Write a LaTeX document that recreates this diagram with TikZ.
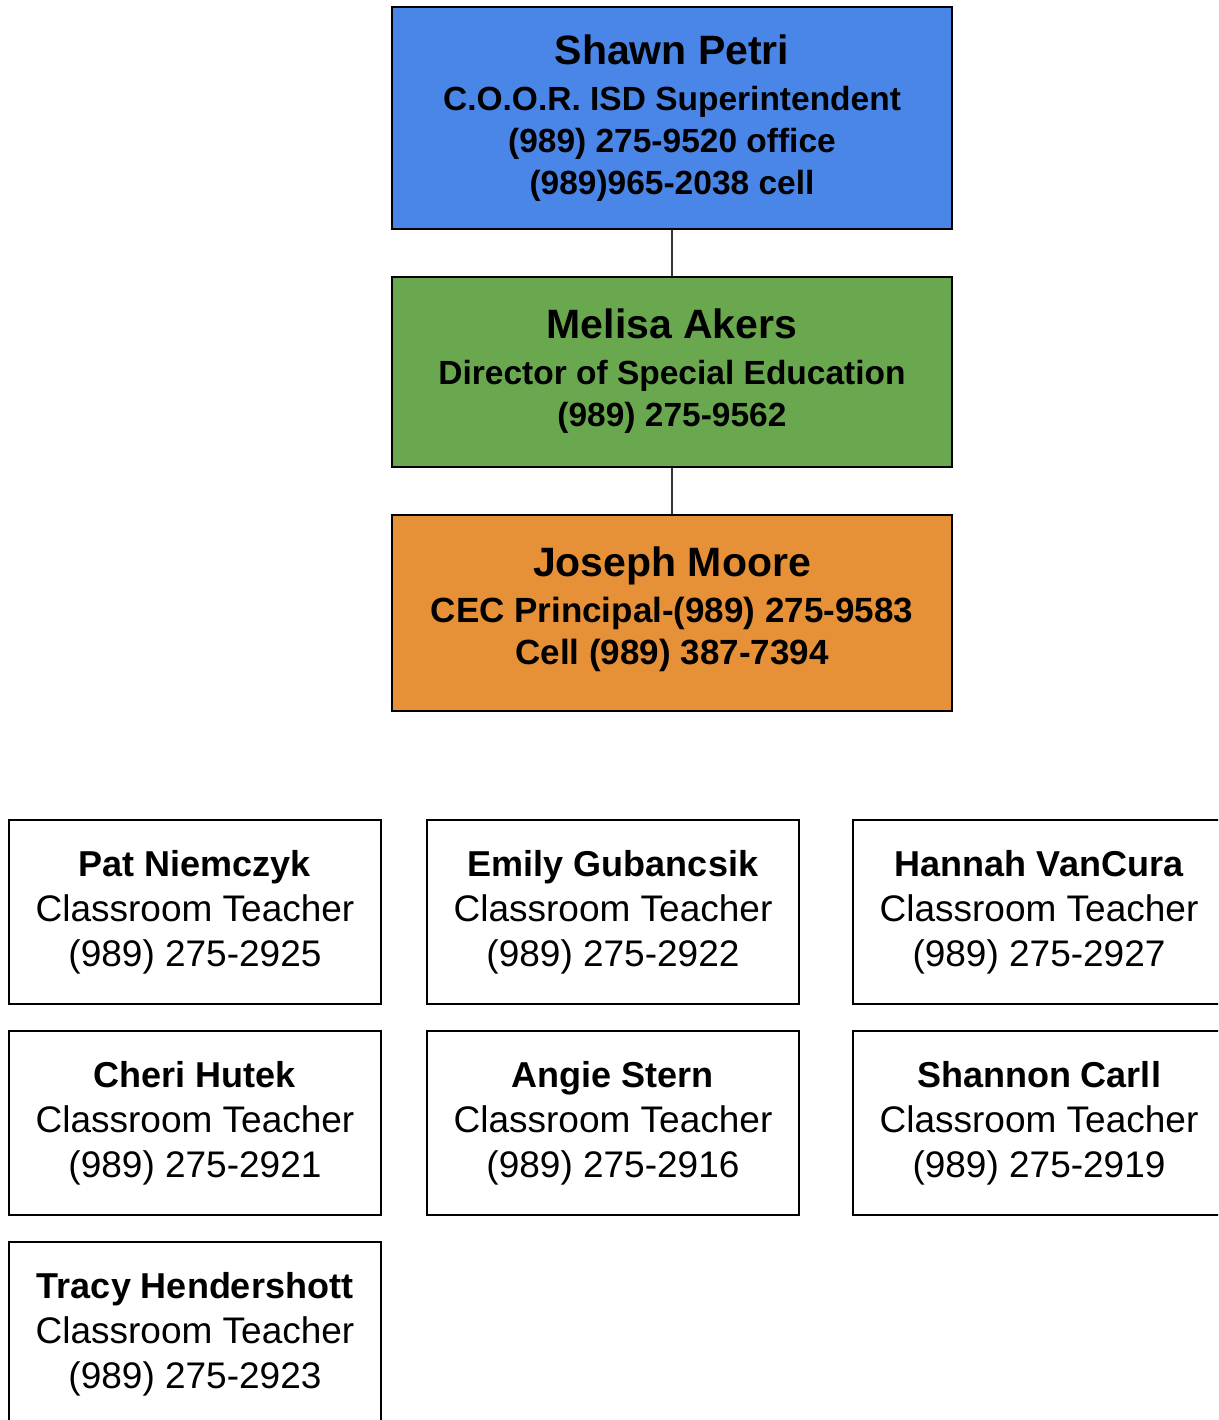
\documentclass[tikz,border=0pt]{standalone}
\usepackage{fontspec}
\setmainfont{Liberation Sans}
\usepackage{tikz}
\usetikzlibrary{positioning}
\usepackage{xcolor}
\definecolor{cBlue}{HTML}{4A86E8}
\definecolor{cGreen}{HTML}{6AA84F}
\definecolor{cOrange}{HTML}{E69138}
\definecolor{cLine}{HTML}{333333}

\newcommand{\leadname}[1]{{\fontsize{41}{48}\selectfont\bfseries #1}}
\newcommand{\teachname}[1]{{\fontsize{36}{45}\selectfont\bfseries #1}}
% extra depth on the last line lifts the text block a little
\newcommand{\lift}[1]{\rule[-#1]{0pt}{0pt}}

\begin{document}
\begin{tikzpicture}[x=1pt, y=-1pt,
  leadbox/.style={draw=black, fill=#1, line width=2.5pt,
    minimum width=560pt, inner sep=0pt, align=center,
    font=\fontsize{33.5}{42}\selectfont\bfseries},
  teacherbox/.style={draw=black, fill=white, line width=2.5pt,
    minimum width=372pt, minimum height=184pt, inner sep=0pt,
    align=center, font=\fontsize{37}{45}\selectfont},
  link/.style={draw=cLine, line width=1.5pt}
]
  \useasboundingbox (0,0) rectangle (1218,1420);
  \clip (0,0) rectangle (1218,1420);

  % leadership chain
  \node[leadbox=cBlue, minimum height=222pt] (petri) at (672,118) {%
    \leadname{Shawn Petri}\\[4pt]
    C.O.O.R. ISD Superintendent\\
    (989) 275-9520 office\\
    (989)965-2038 cell%
  };

  \node[leadbox=cGreen, minimum height=190pt] (akers) at (672,372) {%
    \leadname{Melisa Akers}\\[4pt]
    Director of Special Education\\
    (989) 275-9562\lift{9pt}%
  };

  \node[leadbox=cOrange, minimum height=196pt,
    font=\fontsize{35}{42}\selectfont\bfseries] (moore) at (672,613) {%
    \leadname{Joseph Moore}\\[4pt]
    CEC Principal-(989) 275-9583\\
    Cell (989) 387-7394\lift{15pt}%
  };

  \draw[link] (petri.south) -- (akers.north);
  \draw[link] (akers.south) -- (moore.north);

  % classroom teachers
  \node[teacherbox] (niemczyk) at (195,912) {%
    \teachname{Pat Niemczyk}\\ Classroom Teacher\\ (989) 275-2925\lift{4pt}};
  \node[teacherbox] (gubancsik) at (613,912) {%
    \teachname{Emily Gubancsik}\\ Classroom Teacher\\ (989) 275-2922\lift{4pt}};
  \node[teacherbox] (vancura) at (1039,912) {%
    \teachname{Hannah VanCura}\\ Classroom Teacher\\ (989) 275-2927\lift{4pt}};

  \node[teacherbox] (hutek) at (195,1123) {%
    \teachname{Cheri Hutek}\\ Classroom Teacher\\ (989) 275-2921\lift{4pt}};
  \node[teacherbox] (stern) at (613,1123) {%
    \teachname{Angie Stern}\\ Classroom Teacher\\ (989) 275-2916\lift{4pt}};
  \node[teacherbox] (carll) at (1039,1123) {%
    \teachname{Shannon Carll}\\ Classroom Teacher\\ (989) 275-2919\lift{4pt}};

  \node[teacherbox] (hendershott) at (195,1334) {%
    \teachname{Tracy Hendershott}\\ Classroom Teacher\\ (989) 275-2923\lift{4pt}};

\end{tikzpicture}
\end{document}
